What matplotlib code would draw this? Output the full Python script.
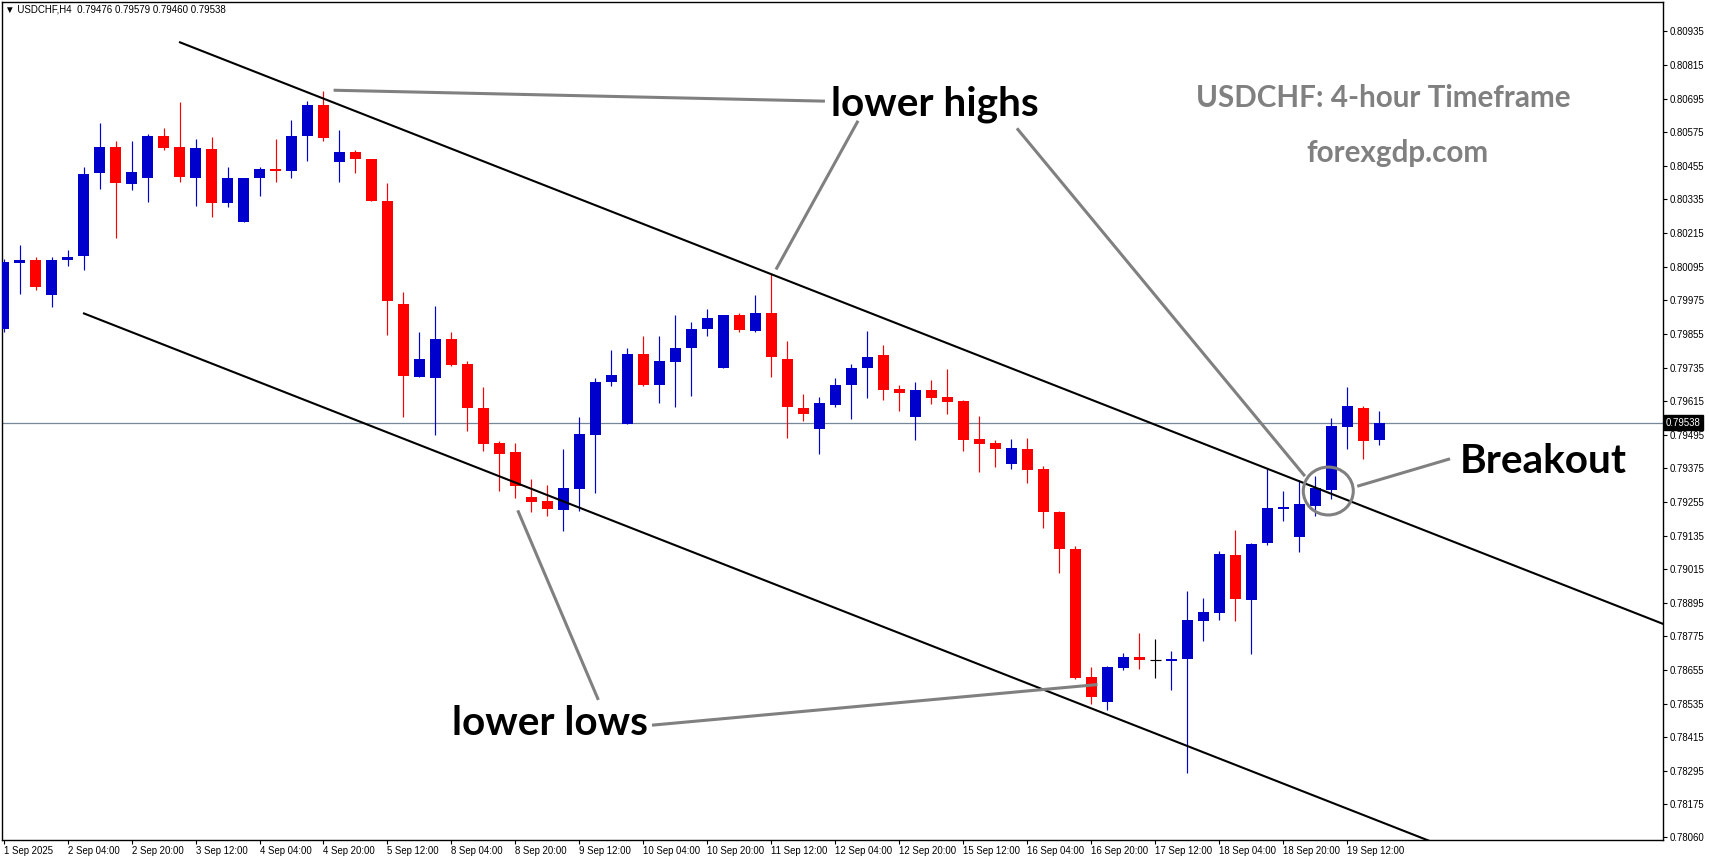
import matplotlib
matplotlib.use("Agg")
import matplotlib.pyplot as plt
import matplotlib.transforms as mtransforms
from matplotlib.patches import Ellipse

# USDCHF H4 candles (index 0 = first visible bar)
opens = [0.79872, 0.80107, 0.80120, 0.79993, 0.80118, 0.80132, 0.80428, 0.80523, 0.80389, 0.80410,
         0.80562, 0.80523, 0.80410, 0.80516, 0.80321, 0.80253, 0.80410, 0.80445, 0.80435, 0.80560,
         0.80673, 0.80467, 0.80505, 0.80480, 0.80331, 0.79963, 0.79700, 0.79697, 0.79838, 0.79749,
         0.79592, 0.79464, 0.79432, 0.79272, 0.79257, 0.79226, 0.79301, 0.79494, 0.79683, 0.79533,
         0.79785, 0.79672, 0.79754, 0.79804, 0.79872, 0.79733, 0.79921, 0.79867, 0.79931, 0.79767,
         0.79592, 0.79515, 0.79600, 0.79672, 0.79733, 0.79778, 0.79657, 0.79558, 0.79653, 0.79628,
         0.79614, 0.79478, 0.79464, 0.79390, 0.79443, 0.79371, 0.79218, 0.79086, 0.78630, 0.78542,
         0.78663, 0.78701, 0.78690, 0.78688, 0.78695, 0.78830, 0.78859, 0.79065, 0.78905, 0.79109,
         0.79230, 0.79130, 0.79240, 0.79298, 0.79522, 0.79592, 0.79476]
highs = [0.80124, 0.80174, 0.80131, 0.80131, 0.80156, 0.80452, 0.80609, 0.80545, 0.80545, 0.80570,
         0.80591, 0.80684, 0.80552, 0.80559, 0.80452, 0.80413, 0.80452, 0.80552, 0.80619, 0.80687,
         0.80723, 0.80584, 0.80512, 0.80480, 0.80395, 0.80003, 0.79860, 0.79956, 0.79863, 0.79760,
         0.79664, 0.79472, 0.79464, 0.79336, 0.79314, 0.79443, 0.79560, 0.79699, 0.79796, 0.79806,
         0.79849, 0.79849, 0.79921, 0.79896, 0.79945, 0.79921, 0.79928, 0.79995, 0.80070, 0.79831,
         0.79642, 0.79629, 0.79699, 0.79749, 0.79867, 0.79814, 0.79671, 0.79685, 0.79692, 0.79728,
         0.79619, 0.79561, 0.79475, 0.79478, 0.79485, 0.79382, 0.79222, 0.79098, 0.78666, 0.78670,
         0.78716, 0.78787, 0.78765, 0.78722, 0.78936, 0.78911, 0.79079, 0.79154, 0.79107, 0.79376,
         0.79294, 0.79332, 0.79346, 0.79553, 0.79664, 0.79596, 0.79579]
lows = [0.79863, 0.79996, 0.80013, 0.79950, 0.80096, 0.80082, 0.80371, 0.80196, 0.80367, 0.80325,
        0.80510, 0.80396, 0.80310, 0.80271, 0.80307, 0.80253, 0.80346, 0.80396, 0.80410, 0.80474,
        0.80542, 0.80399, 0.80428, 0.80328, 0.79850, 0.79558, 0.79700, 0.79494, 0.79740, 0.79508,
        0.79437, 0.79294, 0.79269, 0.79219, 0.79205, 0.79150, 0.79223, 0.79287, 0.79668, 0.79533,
        0.79668, 0.79608, 0.79594, 0.79633, 0.79847, 0.79733, 0.79861, 0.79863, 0.79700, 0.79483,
        0.79544, 0.79426, 0.79594, 0.79551, 0.79626, 0.79619, 0.79579, 0.79476, 0.79604, 0.79569,
        0.79437, 0.79362, 0.79380, 0.79372, 0.79322, 0.79162, 0.79002, 0.78624, 0.78534, 0.78513,
        0.78656, 0.78659, 0.78627, 0.78584, 0.78288, 0.78759, 0.78834, 0.78830, 0.78713, 0.79101,
        0.79187, 0.79076, 0.79205, 0.79265, 0.79444, 0.79408, 0.79460]
closes = [0.80110, 0.80120, 0.80021, 0.80120, 0.80131, 0.80427, 0.80523, 0.80392, 0.80434, 0.80562,
          0.80517, 0.80414, 0.80520, 0.80321, 0.80413, 0.80413, 0.80445, 0.80435, 0.80562, 0.80673,
          0.80556, 0.80505, 0.80478, 0.80328, 0.79973, 0.79704, 0.79767, 0.79838, 0.79743, 0.79590,
          0.79462, 0.79426, 0.79312, 0.79255, 0.79230, 0.79304, 0.79496, 0.79685, 0.79710, 0.79785,
          0.79672, 0.79757, 0.79806, 0.79874, 0.79913, 0.79921, 0.79868, 0.79931, 0.79772, 0.79594,
          0.79569, 0.79607, 0.79674, 0.79735, 0.79774, 0.79654, 0.79643, 0.79653, 0.79626, 0.79611,
          0.79476, 0.79462, 0.79444, 0.79446, 0.79369, 0.79219, 0.79087, 0.78627, 0.78559, 0.78665,
          0.78701, 0.78691, 0.78690, 0.78696, 0.78833, 0.78861, 0.79068, 0.78909, 0.79105, 0.79232,
          0.79236, 0.79247, 0.79304, 0.79525, 0.79596, 0.79472, 0.79538]

time_labels = ["1 Sep 2025", "2 Sep 04:00", "2 Sep 20:00", "3 Sep 12:00", "4 Sep 04:00",
               "4 Sep 20:00", "5 Sep 12:00", "8 Sep 04:00", "8 Sep 20:00", "9 Sep 12:00",
               "10 Sep 04:00", "10 Sep 20:00", "11 Sep 12:00", "12 Sep 04:00", "12 Sep 20:00",
               "15 Sep 12:00", "16 Sep 04:00", "16 Sep 20:00", "17 Sep 12:00", "18 Sep 04:00",
               "18 Sep 20:00", "19 Sep 12:00"]
price_ticks = [0.78060, 0.78175, 0.78295, 0.78415, 0.78535, 0.78655, 0.78775, 0.78895, 0.79015,
               0.79135, 0.79255, 0.79375, 0.79495, 0.79615, 0.79735, 0.79855, 0.79975, 0.80095,
               0.80215, 0.80335, 0.80455, 0.80575, 0.80695, 0.80815, 0.80935]

# channel anchors (bar index, price)
upper_channel = [(11.03, 0.80896), (80.0, 0.79351)]
lower_channel = [(5.03, 0.79928), (80.0, 0.78249)]
last_price = 0.79538

BULL = "#0000CC"
BEAR = "#FF0000"
GREY = "#808080"

fig = plt.figure(figsize=(17.09, 8.61), dpi=100)
ax = fig.add_axes([2 / 1709, 21 / 861, 1661 / 1709, 838 / 861])
ax.set_xlim(-0.094, 103.72)
ax.set_ylim(0.78048, 0.81040)

# candles
for i in range(len(opens)):
    o, h, l, c = opens[i], highs[i], lows[i], closes[i]
    if c > o:
        col = BULL
    elif c < o:
        col = BEAR
    else:
        col = "black"
    ax.vlines(i, l, h, color=col, lw=0.85, zorder=3)
    if c == o:
        ax.hlines(o, i - 0.35, i + 0.35, color=col, lw=0.85, zorder=3)
    else:
        ax.bar(i, abs(c - o), bottom=min(o, c), width=0.69, color=col, lw=0, zorder=3)

# channel lines, extended to the right as rays
for (x0, y0), (x1, y1) in [upper_channel, lower_channel]:
    slope = (y1 - y0) / (x1 - x0)
    xe = 110
    ax.plot([x0, xe], [y0, y0 + slope * (xe - x0)], color="black", lw=1.5, zorder=4)

# current price line
ax.axhline(last_price, color="#778899", lw=0.9, zorder=2)

# annotation pointers
pointers = [
    [(20.63, 0.80725), (51.34, 0.80686)],
    [(48.28, 0.80085), (53.41, 0.80616)],
    [(63.34, 0.80589), (81.34, 0.79347)],
    [(32.14, 0.79225), (37.18, 0.78548)],
    [(40.53, 0.78458), (68.38, 0.78603)],
    [(84.61, 0.79311), (90.41, 0.79409)],
]
for (x0, y0), (x1, y1) in pointers:
    ax.plot([x0, x1], [y0, y1], color=GREY, lw=2.2, solid_capstyle="butt", zorder=5)
ax.add_patch(Ellipse((82.8, 0.79294), 3.125, 0.00171, fill=False, edgecolor=GREY, lw=2.2, zorder=5))

txt = dict(family="Lato", weight="bold", color="black", fontsize=29.2, ha="center", va="baseline", zorder=6)
ax.text(58.22, 0.80636, "lower highs", **txt)
ax.text(34.16, 0.78423, "lower lows", **txt)
ax.text(96.22, 0.79357, "Breakout", **txt)

fig.text(1383 / 1709, 1 - 107 / 861, "USDCHF: 4-hour Timeframe", family="Lato", weight="bold",
         color=GREY, fontsize=21.3, ha="center", va="baseline")
fig.text(1397 / 1709, 1 - 162 / 861, "forexgdp.com", family="Lato", weight="bold",
         color=GREY, fontsize=21.3, ha="center", va="baseline")

# header
fig.text(5 / 1709, 1 - 10 / 861, "\u25bc USDCHF,H4  0.79476 0.79579 0.79460 0.79538",
         family=["Liberation Sans", "DejaVu Sans"], fontsize=7, va="center", ha="left")

# axes styling (MT4 like)
for s in ax.spines.values():
    s.set_linewidth(1.0)
    s.set_color("black")
ax.set_xticks(range(0, 88, 4))
ax.set_xticklabels(time_labels, ha="left", family="Liberation Sans", fontsize=6.9)
offset = mtransforms.ScaledTranslation(1.5 / 72, 0, fig.dpi_scale_trans)
for lab in ax.get_xticklabels():
    lab.set_transform(lab.get_transform() + offset)
ax.tick_params(axis="x", direction="out", length=3, width=0.8, pad=1)

ax.yaxis.tick_right()
ax.set_yticks(price_ticks)
ax.set_yticklabels(["%.5f" % p for p in price_ticks], family="Liberation Sans", fontsize=6.9)
ax.tick_params(axis="y", direction="out", length=3, width=0.8, pad=1.5)

ax.annotate("%.5f" % last_price, xy=(1.0, last_price), xycoords=("axes fraction", "data"),
            xytext=(2.2, 0), textcoords="offset points", va="center", ha="left",
            family="Liberation Sans", fontsize=6.9, color="white",
            bbox=dict(boxstyle="square,pad=0.25", fc="black", ec="black"))

fig.savefig("out.png", dpi=100, facecolor="white")
